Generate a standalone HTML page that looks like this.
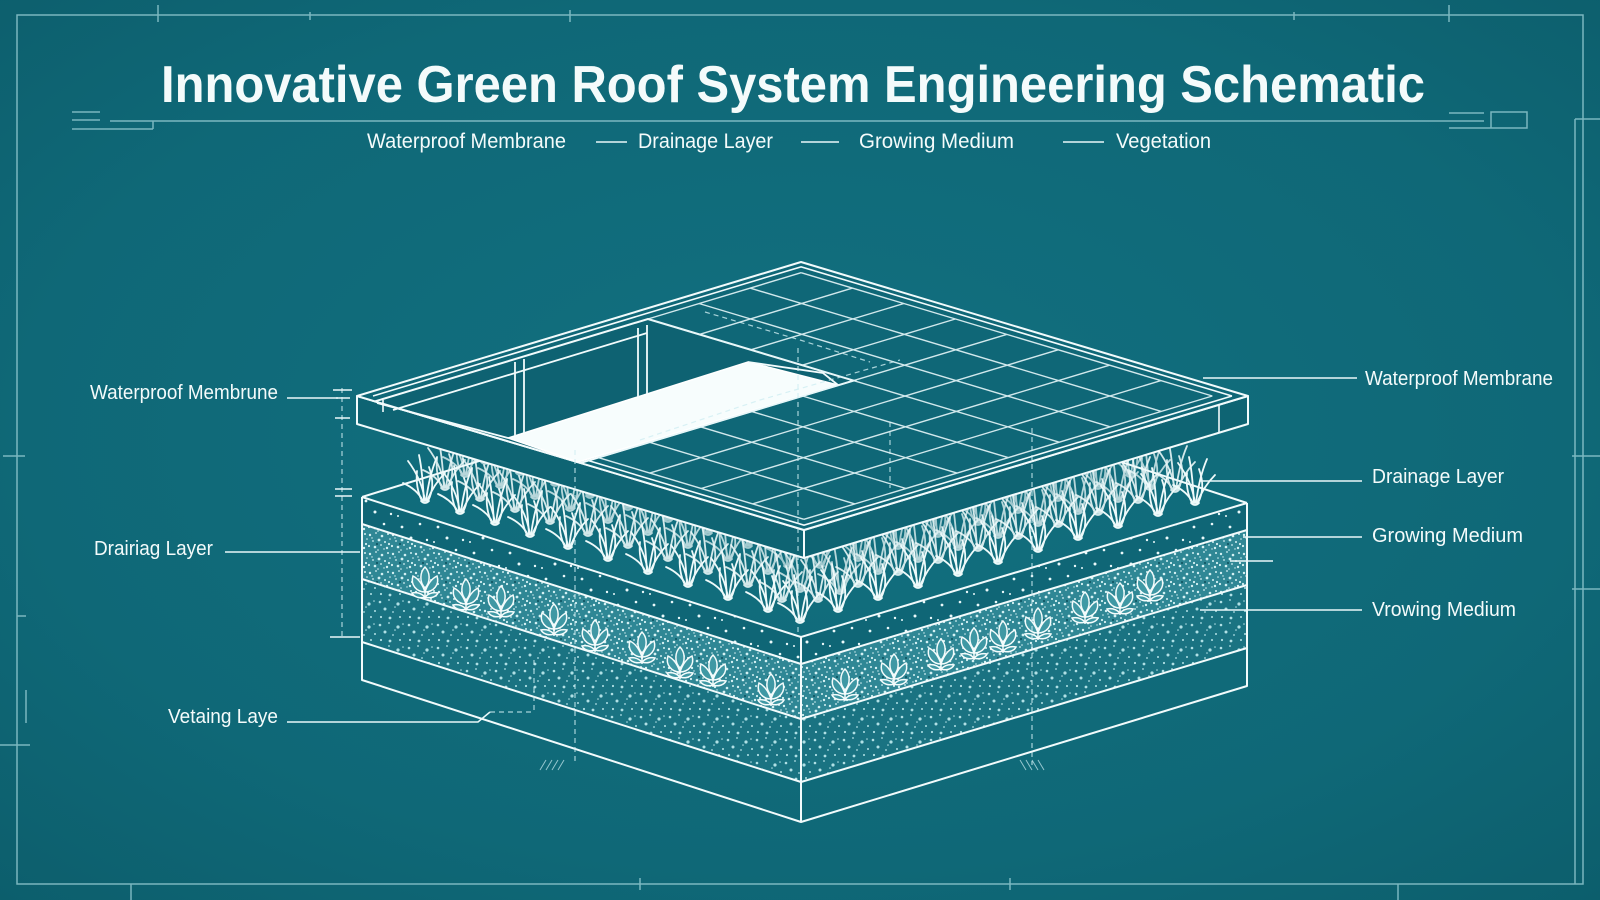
<!DOCTYPE html>
<html>
<head>
<meta charset="utf-8">
<style>
html,body{margin:0;padding:0;background:#106877;overflow:hidden;}
svg{display:block;}
text{font-family:"Liberation Sans",sans-serif;fill:#f4fbfb;}
</style>
</head>
<body>
<svg width="1600" height="900" viewBox="0 0 1600 900" xmlns="http://www.w3.org/2000/svg">
<defs>
 <radialGradient id="bg" cx="50%" cy="48%" r="75%">
  <stop offset="0" stop-color="#127080"/>
  <stop offset="0.65" stop-color="#0f6877"/>
  <stop offset="1" stop-color="#0c5d6b"/>
 </radialGradient>
 <pattern id="p0" width="36" height="26" patternUnits="userSpaceOnUse">
  <rect width="36" height="26" fill="#0f6676"/>
  <g fill="#eaf9fa">
   <circle cx="6" cy="7" r="1.4"/><circle cx="24" cy="4" r="1.3"/><circle cx="15" cy="18" r="1.5"/><circle cx="31" cy="20" r="1.2"/><circle cx="2" cy="22" r="1"/>
  </g>
 </pattern>
 <pattern id="p1" width="23" height="19" patternUnits="userSpaceOnUse">
  <rect width="23" height="19" fill="#2f8795"/>
  <g fill="#d4f1f3">
   <circle cx="2" cy="3" r="1.2"/><circle cx="8" cy="1" r="0.9"/><circle cx="14" cy="4" r="1.3"/><circle cx="20" cy="2" r="1"/>
   <circle cx="5" cy="9" r="0.9"/><circle cx="11" cy="8" r="1.4"/><circle cx="17" cy="10" r="1"/><circle cx="22" cy="7" r="0.8"/>
   <circle cx="1" cy="14" r="1.1"/><circle cx="7" cy="15" r="1.3"/><circle cx="13" cy="13" r="0.9"/><circle cx="19" cy="16" r="1.2"/>
   <circle cx="10" cy="18" r="0.8"/><circle cx="16" cy="17" r="0.7"/><circle cx="4" cy="6" r="0.7"/><circle cx="21" cy="12" r="1.1"/>
  </g>
  <circle cx="9" cy="12" r="1" fill="#0b4f5c"/>
 </pattern>
 <pattern id="p2" width="29" height="23" patternUnits="userSpaceOnUse">
  <rect width="29" height="23" fill="#1a7382"/>
  <g fill="#b0e0e5">
   <circle cx="3" cy="4" r="1.3"/><circle cx="12" cy="2" r="0.9"/><circle cx="21" cy="6" r="1.6"/><circle cx="27" cy="13" r="1"/>
   <circle cx="8" cy="11" r="1.5"/><circle cx="16" cy="14" r="0.9"/><circle cx="4" cy="19" r="1.1"/><circle cx="13" cy="20" r="1.4"/>
   <circle cx="23" cy="19" r="1"/><circle cx="18" cy="9" r="0.8"/><circle cx="26" cy="3" r="0.8"/>
  </g>
 </pattern>
 <g id="tuft" fill="none" stroke="#eefafa" stroke-width="1.8" stroke-linecap="round">
  <path d="M0 0C-2-14-8-28-17-40"/>
  <path d="M-1 0C-2-16-3-32-6-46"/>
  <path d="M1 0C3-16 6-30 12-44"/>
  <path d="M2 0C6-10 12-20 20-28"/>
  <path d="M-2 0C-6-8-13-14-22-18"/>
  <path d="M-3 0C-8-10-9-20-8-30"/>
  <path d="M3 0C8-10 9-20 4-34"/>
  <path d="M-4 0Q0 4 4 0"/>
 </g>
 <g id="leaf" fill="#3f98a4" stroke="#f4fcfc" stroke-width="1.5">
  <path d="M0 0V-12" fill="none"/>
  <path d="M0-7C-8-7-15-14-12-23C-6-20-2-13 0-7Z"/>
  <path d="M0-7C8-7 15-14 12-23C6-20 2-13 0-7Z"/>
  <path d="M0-11C-6-17-5-27 0-32C5-27 6-17 0-11Z"/>
  <path d="M0-2C-5 0-11-2-13-6C-8-7-4-6 0-2Z"/>
  <path d="M0-2C5 0 11-2 13-6C8-7 4-6 0-2Z"/>
 </g>
</defs>

<!-- background -->
<rect width="1600" height="900" fill="url(#bg)"/>

<!-- border frame & ruler marks -->
<g stroke="#9fd3da" stroke-width="1.5" fill="none" opacity="0.75">
 <path d="M17 15H1583V884H17Z"/>
 <path d="M158 5V22M310 12V20M570 10V22M1294 12V20M1449 5V22"/>
 <path d="M131 884V900M1398 884V900M640 878V890M1010 878V890"/>
 <path d="M3 456H25M17 616H26M0 745H30M26 690V723"/>
 <path d="M1572 456H1600M1572 589H1600M1575 119V884M1575 119H1600"/>
 <path d="M110 121H1484"/>
 <path d="M72 112H100M72 120H100M153 121V129M72 129H153"/>
 <path d="M1449 113H1484M1449 128H1527M1491 112H1527V128H1491Z"/>
</g>

<!-- lower block faces -->
<g stroke="none">
 <polygon points="362,497 801,637 801,664 362,524" fill="url(#p0)"/>
 <polygon points="801,637 1247,503 1247,530 801,664" fill="url(#p0)"/>
 <polygon points="362,524 801,664 801,719 362,579" fill="url(#p1)"/>
 <polygon points="801,664 1247,530 1247,585 801,719" fill="url(#p1)"/>
 <polygon points="362,579 801,719 801,782 362,642" fill="url(#p2)"/>
 <polygon points="801,719 1247,585 1247,648 801,782" fill="url(#p2)"/>
</g>
<g stroke="#f2fbfc" stroke-width="2" fill="none" stroke-linejoin="round">
 <path d="M362 497L801 637L1247 503"/>
 <path d="M362 497V680L801 822L1247 686V503"/>
 <path d="M801 637V822"/>
 <path d="M362 524L801 664L1247 530"/>
 <path d="M362 579L801 719L1247 585"/>
 <path d="M362 642L801 782L1247 648"/>
 <path d="M362 497L808 360L1247 503"/>
</g>

<!-- leafy plants -->
<g>
 <use href="#leaf" x="425" y="599"/><use href="#leaf" x="466" y="611"/><use href="#leaf" x="501" y="618"/>
 <use href="#leaf" x="554" y="636"/><use href="#leaf" x="595" y="652"/><use href="#leaf" x="642" y="664"/>
 <use href="#leaf" x="680" y="679"/><use href="#leaf" x="713" y="687"/><use href="#leaf" x="771" y="706"/>
 <use href="#leaf" x="845" y="701"/><use href="#leaf" x="894" y="686"/><use href="#leaf" x="941" y="671"/>
 <use href="#leaf" x="974" y="660"/><use href="#leaf" x="1003" y="653"/><use href="#leaf" x="1038" y="640"/>
 <use href="#leaf" x="1085" y="624"/><use href="#leaf" x="1120" y="615"/><use href="#leaf" x="1150" y="602"/>
</g>

<!-- grass: back rows -->
<g opacity="0.65">
 <use href="#tuft" x="485" y="462"/><use href="#tuft" x="520" y="473"/><use href="#tuft" x="555" y="484"/><use href="#tuft" x="590" y="496"/>
 <use href="#tuft" x="628" y="508"/><use href="#tuft" x="668" y="520"/><use href="#tuft" x="708" y="533"/><use href="#tuft" x="748" y="546"/>
 <use href="#tuft" x="788" y="566"/>
 <use href="#tuft" x="820" y="566"/><use href="#tuft" x="858" y="559"/><use href="#tuft" x="898" y="547"/><use href="#tuft" x="938" y="535"/>
 <use href="#tuft" x="978" y="523"/><use href="#tuft" x="1018" y="511"/><use href="#tuft" x="1058" y="499"/><use href="#tuft" x="1098" y="487"/>
 <use href="#tuft" x="1130" y="475"/>
</g>
<g opacity="0.75">
 <use href="#tuft" x="465" y="475"/><use href="#tuft" x="500" y="486"/><use href="#tuft" x="535" y="497"/><use href="#tuft" x="570" y="509"/>
 <use href="#tuft" x="608" y="521"/><use href="#tuft" x="648" y="533"/><use href="#tuft" x="688" y="546"/><use href="#tuft" x="728" y="559"/>
 <use href="#tuft" x="768" y="572"/><use href="#tuft" x="800" y="590"/>
 <use href="#tuft" x="840" y="592"/><use href="#tuft" x="878" y="572"/><use href="#tuft" x="918" y="560"/><use href="#tuft" x="958" y="548"/>
 <use href="#tuft" x="998" y="536"/><use href="#tuft" x="1038" y="524"/><use href="#tuft" x="1078" y="512"/><use href="#tuft" x="1118" y="500"/>
 <use href="#tuft" x="1150" y="488"/>
</g>
<g opacity="0.88">
 <use href="#tuft" x="445" y="488"/><use href="#tuft" x="480" y="499"/><use href="#tuft" x="515" y="510"/><use href="#tuft" x="550" y="522"/>
 <use href="#tuft" x="588" y="534"/><use href="#tuft" x="628" y="546"/><use href="#tuft" x="668" y="559"/><use href="#tuft" x="708" y="572"/>
 <use href="#tuft" x="748" y="585"/><use href="#tuft" x="782" y="600"/>
 <use href="#tuft" x="818" y="600"/><use href="#tuft" x="858" y="585"/><use href="#tuft" x="898" y="573"/><use href="#tuft" x="938" y="561"/>
 <use href="#tuft" x="978" y="549"/><use href="#tuft" x="1018" y="537"/><use href="#tuft" x="1058" y="525"/><use href="#tuft" x="1098" y="513"/>
 <use href="#tuft" x="1138" y="501"/><use href="#tuft" x="1175" y="490"/>
</g>
<!-- grass: front row -->
<g>
 <use href="#tuft" x="425" y="501"/><use href="#tuft" x="460" y="512"/><use href="#tuft" x="495" y="523"/><use href="#tuft" x="530" y="535"/>
 <use href="#tuft" x="568" y="547"/><use href="#tuft" x="608" y="559"/><use href="#tuft" x="648" y="572"/><use href="#tuft" x="688" y="585"/>
 <use href="#tuft" x="728" y="598"/><use href="#tuft" x="768" y="610"/><use href="#tuft" x="800" y="621"/>
 <use href="#tuft" x="838" y="610"/><use href="#tuft" x="878" y="598"/><use href="#tuft" x="918" y="586"/><use href="#tuft" x="958" y="574"/>
 <use href="#tuft" x="998" y="562"/><use href="#tuft" x="1038" y="550"/><use href="#tuft" x="1078" y="538"/><use href="#tuft" x="1118" y="526"/>
 <use href="#tuft" x="1158" y="514"/><use href="#tuft" x="1195" y="503"/>
</g>

<!-- roof slab -->
<g stroke="#f2fbfc" stroke-width="2" stroke-linejoin="round">
 <polygon points="357,396 804,530 804,558 357,424" fill="#0e6473"/>
 <polygon points="804,530 1248,396 1248,424 804,558" fill="#0e6473"/>
 <polygon points="801,262 1248,396 804,530 357,396" fill="#0f6777"/>
</g>
<!-- opening -->
<polygon points="647.9,319 853.6,380.6 580.5,463 374.9,401.4" fill="#0e6272" stroke="#f2fbfc" stroke-width="2"/>
<polygon points="508,438 748,362 838,385 578,462" fill="#f7fdfd" stroke="#ffffff" stroke-width="1.5"/>
<g stroke="#f2fbfc" stroke-width="1.8" fill="none">
 <path d="M393 410L647 333"/>
 <path d="M377 403L508 438"/>
 <path d="M515 362V436M524 359V433M638 328V397M647 325V394"/>
 <path d="M748 362L823 373L838 385"/>
</g>
<!-- parapet / rims -->
<g stroke="#f2fbfc" stroke-width="1.6" fill="none">
 <path d="M373 396L801.1 266.8L1232 396"/>
 <path d="M588.5 460.6L804 525.2L1232 396"/>
 <path d="M1219 404V432M383 400V412"/>
</g>
<!-- roof grid -->
<g stroke="#e6f7f9" stroke-width="1.4" fill="none" opacity="0.9">
 <path d="M801.1 272.7L647.9 319.0M852.5 288.1L699.4 334.4M903.9 303.5L750.8 349.8M955.3 319.0L802.2 365.2M1006.7 334.4L598.3 457.6M1058.1 349.8L649.7 473.1M1109.5 365.2L701.1 488.5M1160.9 380.6L752.5 503.9M1212.3 396.0L803.9 519.3"/>
 <path d="M801.1 272.7L1212.3 396.0M750.1 288.1L1161.3 411.4M699.0 303.5L1110.2 426.8M647.9 319.0L1059.2 442.2M802.5 396L1008.1 457.6M751.4 411.4L957.0 473.1M700.4 426.8L906.0 488.5M649.3 442.2L854.9 503.9M598.3 457.6L803.9 519.3"/>
</g>
<!-- dashed hidden lines -->
<g stroke="#cfeef2" stroke-width="1.2" fill="none" stroke-dasharray="5 4" opacity="0.8">
 <path d="M705 312L800 340L870 362"/>
 <path d="M640 440L760 400L900 360"/>
 <path d="M798 348V637"/>
 <path d="M890 422V488"/>
 <path d="M1032 428V765"/>
 <path d="M575 450V763"/>
 <path d="M534 660V713"/>
 <path d="M342 388V637"/>
 <path d="M490 712H534"/>
</g>
<g stroke="#cfeef2" stroke-width="1" fill="none" opacity="0.7">
 <path d="M540 770L546 760M546 770L552 760M552 770L558 760M558 770L564 760"/>
 <path d="M1020 760L1026 770M1026 760L1032 770M1032 760L1038 770M1038 760L1044 770"/>
</g>

<!-- leaders & dimension ticks -->
<g stroke="#eaf8f9" stroke-width="1.5" fill="none">
 <path d="M287 398H338"/>
 <path d="M333 390H352M336 398H350M335 418H350M335 489H352M335 496H352M330 637H360"/>
 <path d="M225 552H360"/>
 <path d="M287 722H478L490 712"/>
 <path d="M1203 378H1357"/>
 <path d="M1200 481H1362"/>
 <path d="M1243 537H1362"/>
 <path d="M1230 561H1273"/>
 <path d="M1200 610H1362"/>
 <path d="M596 142H627M801 142H839M1063 142H1104"/>
</g>

<!-- title -->
<text x="161" y="102" font-size="52" font-weight="bold" textLength="1264" lengthAdjust="spacingAndGlyphs">Innovative Green Roof System Engineering Schematic</text>

<!-- legend -->
<g font-size="21">
 <text x="367" y="148" textLength="199" lengthAdjust="spacingAndGlyphs">Waterproof Membrane</text>
 <text x="638" y="148" textLength="135" lengthAdjust="spacingAndGlyphs">Drainage Layer</text>
 <text x="859" y="148" textLength="155" lengthAdjust="spacingAndGlyphs">Growing Medium</text>
 <text x="1116" y="148" textLength="95" lengthAdjust="spacingAndGlyphs">Vegetation</text>
</g>

<!-- side labels -->
<g font-size="20">
 <text x="90" y="399" textLength="188" lengthAdjust="spacingAndGlyphs">Waterproof Membrune</text>
 <text x="94" y="555" textLength="119" lengthAdjust="spacingAndGlyphs">Drairiag Layer</text>
 <text x="168" y="723" textLength="110" lengthAdjust="spacingAndGlyphs">Vetaing Laye</text>
 <text x="1365" y="385" textLength="188" lengthAdjust="spacingAndGlyphs">Waterproof Membrane</text>
 <text x="1372" y="483" textLength="132" lengthAdjust="spacingAndGlyphs">Drainage Layer</text>
 <text x="1372" y="542" textLength="151" lengthAdjust="spacingAndGlyphs">Growing Medium</text>
 <text x="1372" y="616" textLength="144" lengthAdjust="spacingAndGlyphs">Vrowing Medium</text>
</g>
</svg>
</body>
</html>
